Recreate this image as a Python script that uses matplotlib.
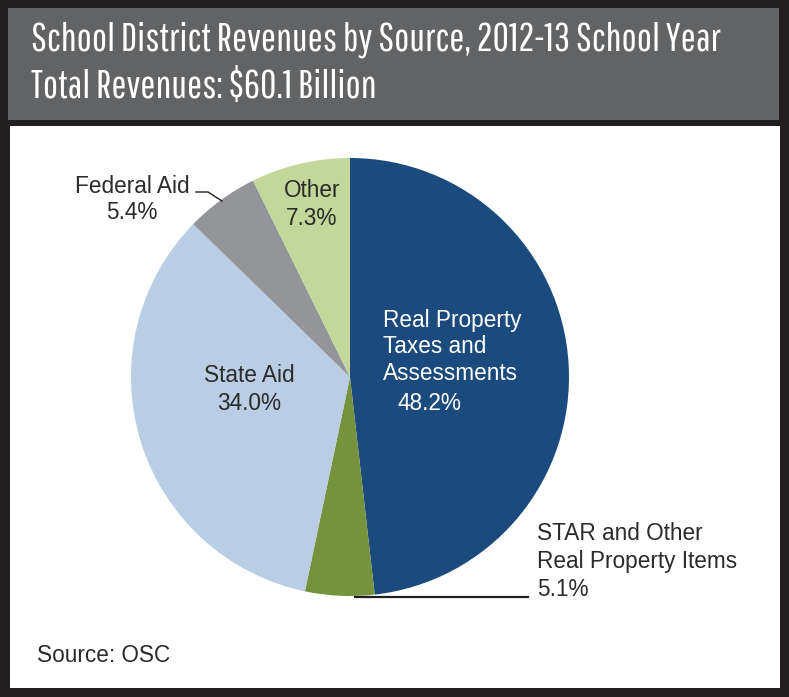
import matplotlib
matplotlib.use("Agg")
import matplotlib.pyplot as plt
from matplotlib.patches import Rectangle
from matplotlib.lines import Line2D

# Data
categories = ["Real Property Taxes and Assessments", "STAR and Other Real Property Items",
              "State Aid", "Federal Aid", "Other"]
values = [48.2, 5.1, 34.0, 5.4, 7.3]
colors = ["#1b4a7c", "#76923c", "#b9cde5", "#939598", "#c4d79b"]
title1 = "School District Revenues by Source, 2012-13 School Year"
title2 = "Total Revenues: $60.1 Billion"
source = "Source: OSC"

W, H = 789, 697
fig = plt.figure(figsize=(W / 100, H / 100), dpi=100)
fig.patch.set_facecolor("#231f20")

def fx(px):
    return px / W

def fy(py):
    return 1 - py / H

# header and body panels
fig.add_artist(Rectangle((fx(8), fy(120)), 771 / W, (120 - 8) / H, zorder=-5,
                         transform=fig.transFigure, facecolor="#626365", edgecolor="none"))
fig.add_artist(Rectangle((fx(10), fy(688)), 770 / W, (688 - 126) / H, zorder=-5,
                         transform=fig.transFigure, facecolor="white", edgecolor="none"))

title_font = ["Pathway Gothic One", "Roboto Condensed", "DejaVu Sans"]
fig.text(fx(31), fy(50), title1, color="white", fontsize=28.8, family=title_font,
         va="baseline", ha="left")
fig.text(fx(31), fy(98), title2, color="white", fontsize=28.8, family=title_font,
         va="baseline", ha="left")

# pie
cx, cy, r = 350, 377, 219
ax = fig.add_axes([fx(cx - r), fy(cy + r), 2 * r / W, 2 * r / H])
ax.pie(values, colors=colors, startangle=90, counterclock=False,
       wedgeprops=dict(linewidth=0))
ax.set_xlim(-1, 1)
ax.set_ylim(-1, 1)
ax.set_aspect("auto")
ax.axis("off")

fs = 16.3
lab = dict(fontsize=fs, family="Liberation Sans", color="#2b2b2b", va="baseline")
fig.text(fx(312), fy(197), "Other", ha="center", **lab)
fig.text(fx(312), fy(225), "7.3%", ha="center", **lab)
fig.text(fx(132), fy(193), "Federal Aid", ha="center", **lab)
fig.text(fx(132), fy(219), "5.4%", ha="center", **lab)
fig.text(fx(249), fy(382), "State Aid", ha="center", **lab)
fig.text(fx(249), fy(410), "34.0%", ha="center", **lab)

wl = dict(fontsize=fs, family="Liberation Sans", color="white", va="baseline")
fig.text(fx(383), fy(327), "Real Property", ha="left", **wl)
fig.text(fx(383), fy(353), "Taxes and", ha="left", **wl)
fig.text(fx(383), fy(380), "Assessments", ha="left", **wl)
fig.text(fx(429.5), fy(410), "48.2%", ha="center", **wl)

fig.text(fx(537), fy(540), "STAR and Other", ha="left", **lab)
fig.text(fx(537), fy(568), "Real Property Items", ha="left", **lab)
fig.text(fx(537), fy(596), "5.1%", ha="left", **lab)

fig.add_artist(Line2D([fx(196), fx(208), fx(222)], [fy(192), fy(192), fy(201)],
                      transform=fig.transFigure, color="#231f20", linewidth=1.0))
fig.add_artist(Line2D([fx(355), fx(528)], [fy(597), fy(597)],
                      transform=fig.transFigure, color="#231f20", linewidth=1.6))

fig.text(fx(37), fy(662), source, ha="left", va="baseline", fontsize=fs,
         family="Liberation Sans", color="#2b2b2b")

fig.savefig("out.png", dpi=100, facecolor=fig.get_facecolor())
